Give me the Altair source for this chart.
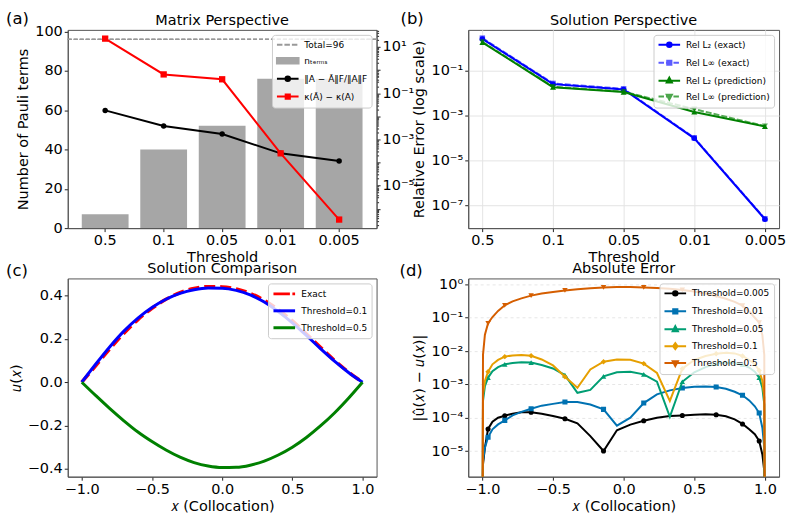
import altair as alt
import pandas as pd

FONT = "DejaVu Sans"
TICK_FS = 14.5
TITLE_FS = 14.5
LEG_FS = 9
FRAME = "#555555"

# ---------------- threshold sweep (panels a, b) ----------------
thresholds = ["0.5", "0.1", "0.05", "0.01", "0.005"]
n_terms = [7, 40, 52, 76, 76]
total_terms = 96
frob_rel_err = [1.8e-2, 3.8e-3, 1.7e-3, 2.5e-4, 1.17e-4]
kappa_diff = [23.0, 0.65, 0.40, 2.5e-4, 3.4e-7]

rel_l2_exact = [2.7, 0.026, 0.015, 1.0e-4, 2.5e-8]
rel_linf_exact = [2.9, 0.028, 0.016, 1.05e-4, 2.6e-8]
rel_l2_pred = [1.9, 0.019, 0.0115, 1.5e-3, 3.4e-4]
rel_linf_pred = [2.0, 0.020, 0.012, 2.0e-3, 3.5e-4]

# ---------------- solution profiles (panel c) ----------------
x_grid = [-1.0, -0.9, -0.8, -0.7, -0.6, -0.5, -0.4, -0.3, -0.2, -0.1, 0.0,
          0.1, 0.2, 0.3, 0.4, 0.5, 0.6, 0.7, 0.8, 0.9, 1.0]
u_exact = [0.0, 0.077, 0.154, 0.226, 0.289, 0.341, 0.383, 0.414, 0.433, 0.441, 0.440,
           0.430, 0.410, 0.378, 0.335, 0.283, 0.223, 0.161, 0.101, 0.047, 0.0]
u_thr_01 = [0.0, 0.084, 0.164, 0.236, 0.296, 0.345, 0.383, 0.410, 0.427, 0.435, 0.434,
            0.424, 0.403, 0.370, 0.326, 0.274, 0.216, 0.155, 0.097, 0.045, 0.0]
u_thr_05 = [0.0, -0.062, -0.122, -0.178, -0.230, -0.274, -0.313, -0.346, -0.371, -0.387, -0.394,
            -0.393, -0.383, -0.364, -0.336, -0.300, -0.255, -0.202, -0.142, -0.074, 0.0]
u_ticks = [0.4, 0.2, 0.0, -0.2, -0.4]

# ---------------- pointwise errors (panel d) ----------------
x_nodes = [-1.0, -0.9955, -0.9819, -0.9595, -0.9284, -0.8888, -0.8413, -0.7861, -0.7237,
           -0.6549, -0.5801, -0.5, -0.4154, -0.3271, -0.2358, -0.1423, -0.0476, 0.0476,
           0.1423, 0.2358, 0.3271, 0.4154, 0.5, 0.5801, 0.6549, 0.7237, 0.7861, 0.8413,
           0.8888, 0.9284, 0.9595, 0.9819, 0.9955, 1.0]
err_thr_0005 = [1e-9, 4.0e-6, 1.26e-5, 4.6e-5, 7.6e-5, 1.0e-4, 1.15e-4, 1.32e-4, 1.45e-4,
                1.45e-4, 1.32e-4, 1.12e-4, 9.3e-5, 6.8e-5, 2.8e-5, 1.0e-5, 4.2e-5, 6.2e-5,
                8.1e-5, 1.0e-4, 1.12e-4, 1.17e-4, 1.23e-4, 1.26e-4, 1.23e-4, 1.1e-4, 8.9e-5,
                6.5e-5, 4.5e-5, 3.2e-5, 2.0e-5, 7.9e-6, 2.5e-6, 1e-9]
err_thr_001 = [1e-9, 5.0e-6, 1.26e-5, 2.6e-5, 4.5e-5, 6.3e-5, 8.3e-5, 1.17e-4, 1.5e-4,
               1.86e-4, 2.3e-4, 2.6e-4, 2.95e-4, 2.95e-4, 2.5e-4, 1.78e-4, 5.8e-5, 1.0e-4,
               2.75e-4, 5.0e-4, 6.6e-4, 7.8e-4, 8.5e-4, 8.7e-4, 8.3e-4, 7.4e-4, 6.0e-4,
               4.7e-4, 3.3e-4, 2.2e-4, 1.38e-4, 5.0e-5, 1.26e-5, 1e-9]
err_thr_005 = [1e-9, 3.2e-4, 8.9e-4, 1.6e-3, 2.5e-3, 3.3e-3, 4.0e-3, 4.4e-3, 4.6e-3,
               4.5e-3, 3.8e-3, 3.0e-3, 1.9e-3, 5.6e-4, 6.8e-4, 1.74e-3, 2.3e-3, 2.4e-3,
               2.0e-3, 1.2e-3, 1.07e-4, 1.2e-3, 2.3e-3, 3.3e-3, 4.2e-3, 4.5e-3, 4.3e-3,
               3.9e-3, 3.2e-3, 2.4e-3, 1.6e-3, 7.9e-4, 2.5e-4, 1e-9]
err_thr_01 = [1e-9, 5.0e-4, 1.26e-3, 2.4e-3, 4.0e-3, 5.4e-3, 6.8e-3, 7.4e-3, 7.6e-3,
              7.2e-3, 5.6e-3, 3.7e-3, 1.7e-3, 7.9e-4, 2.8e-3, 4.8e-3, 5.6e-3, 5.5e-3,
              4.2e-3, 2.2e-3, 3.2e-4, 2.95e-3, 5.4e-3, 7.1e-3, 8.3e-3, 8.9e-3, 8.5e-3,
              7.1e-3, 5.4e-3, 4.0e-3, 2.6e-3, 1.26e-3, 4.0e-4, 1e-9]
err_thr_05 = [1e-9, 7.7e-3, 3.1e-2, 6.8e-2, 0.105, 0.16, 0.235, 0.31, 0.38,
              0.46, 0.53, 0.59, 0.66, 0.72, 0.77, 0.81, 0.83, 0.83,
              0.81, 0.78, 0.74, 0.68, 0.61, 0.53, 0.45, 0.37, 0.30,
              0.23, 0.155, 0.10, 0.071, 0.03, 0.0077, 1e-9]

# markers are drawn on every third node (markevery=3)
MARK_EVERY = 3

# ---------------- helpers ----------------
LOG10 = "round(log(datum.value)/LN10)"
SUP = ("{'1':'10¹','0':'10⁰','-1':'10⁻¹','-2':'10⁻²','-3':'10⁻³','-4':'10⁻⁴',"
       "'-5':'10⁻⁵','-6':'10⁻⁶','-7':'10⁻⁷','-8':'10⁻⁸'}[''+" + LOG10 + "]")
IS_DECADE = f"abs(log(datum.value)/LN10 - {LOG10}) < 1e-6"
# right axis of (a): labels on every second decade only, minor ticks unlabeled
SUP_ODD = (f"({IS_DECADE} && "
           "{'1':'10¹','-1':'10⁻¹','-3':'10⁻³','-5':'10⁻⁵'}[''+" + LOG10 + "]) || ''")
ONE_DEC = "format(datum.value, '.1f')"


def fixed_axis(values, **kw):
    # explicit tick values, all of them kept
    return alt.Axis(values=values, tickCount=2 * len(values), labelOverlap=False,
                    labelBound=False, **kw)


# legend glyphs: a line handle spanning x in [-1, 3.34] with a marker at its centre
CX = 1.17


def circle_glyph(r=0.45):
    return (f"M-1,0H3.34M{CX + r},0A{r},{r} 0 1 1 {CX - r},0"
            f"A{r},{r} 0 1 1 {CX + r},0Z")


def square_glyph(s=0.42):
    return f"M-1,0H3.34M{CX - s},{-s}H{CX + s}V{s}H{CX - s}Z"


def tri_up_glyph():
    return f"M-1,0H3.34M{CX},-0.6L{CX + 0.52},0.38L{CX - 0.52},0.38Z"


def tri_down_glyph():
    return f"M-1,0H3.34M{CX},0.6L{CX + 0.52},-0.38L{CX - 0.52},-0.38Z"


def diamond_glyph():
    return f"M-1,0H3.34M{CX},-0.6L{CX + 0.45},0L{CX},0.6L{CX - 0.45},0Z"


def dashed_glyph(mk=""):
    return "M-1,0H0.1M0.5,0H1.6M2.0,0H3.1" + mk


SOLID = "M-1,0H3.34"
PATCH = "M-1,-0.55H3.34V0.55H-1Z"


def legend_layer(labels, colors, glyphs, stroke_w=2):
    leg = alt.Legend(title=None, orient="top-right", offset=5, labelFont=FONT,
                     labelFontSize=LEG_FS, labelColor="black", symbolSize=100,
                     symbolStrokeWidth=stroke_w, symbolOpacity=1, labelOffset=16.5,
                     rowPadding=4, padding=4, fillColor="rgba(255,255,255,0.8)",
                     strokeColor="#cccccc", cornerRadius=3)
    df = pd.DataFrame({"entry": labels})
    return alt.Chart(df).mark_point(filled=True, opacity=0).encode(
        fill=alt.Fill("entry:N", scale=alt.Scale(domain=labels, range=colors), legend=leg),
        stroke=alt.Stroke("entry:N", scale=alt.Scale(domain=labels, range=colors), legend=leg),
        shape=alt.Shape("entry:N", scale=alt.Scale(domain=labels, range=glyphs), legend=leg),
    )


TAG_TOP = -19      # panel letter, top edge relative to the plot area (upper row)
TAG_TOP_LOW = -15  # lower row


def panel_tag(tag, dx, dy):
    return alt.Chart(pd.DataFrame({"tag": [tag]})).mark_text(
        font=FONT, fontSize=16.5, align="left", baseline="top", color="black"
    ).encode(text="tag:N", x=alt.value(dx), y=alt.value(dy))


def panel_title(text, tag_top):
    # titles sit just above the plot area, although the panel letter reaches higher
    return alt.TitleParams(text, offset=tag_top + 1.5)


W1, W2, H = 310, 312, 199

# ---------------- (a) Matrix Perspective ----------------
df_a = pd.DataFrame({"threshold": thresholds, "n_terms": n_terms,
                     "frob": frob_rel_err, "kappa": kappa_diff})
xa = alt.X("threshold:N", sort=thresholds,
           scale=alt.Scale(paddingInner=0.2, paddingOuter=0.24),
           axis=alt.Axis(title="Threshold", labelAngle=0))
bars = alt.Chart(df_a).mark_bar(color="#a6a6a6").encode(
    x=xa,
    y=alt.Y("n_terms:Q", scale=alt.Scale(domain=[0, 100.8], nice=False),
            axis=fixed_axis([0, 20, 40, 60, 80, 100], title="Number of Pauli terms")),
)
total_rule = alt.Chart(df_a).mark_rule(color="#999999", strokeDash=[4, 2], strokeWidth=1).encode(
    y=alt.datum(total_terms))
yr_domain = [1.45e-7, 55]
yr_ticks = [m * 10.0 ** k for k in range(-7, 2) for m in range(1, 10)
            if yr_domain[0] <= m * 10.0 ** k <= yr_domain[1]]
yr_scale = alt.Scale(type="log", domain=yr_domain, nice=False)
yr_axis = fixed_axis(yr_ticks, orient="right", title=None, labelExpr=SUP_ODD,
                     tickSize={"condition": {"test": IS_DECADE, "value": 3.5}, "value": 2})
frob_line = alt.Chart(df_a).mark_line(
    color="black", strokeWidth=2,
    point=alt.OverlayMarkDef(filled=True, color="black", size=30)
).encode(x=xa, y=alt.Y("frob:Q", scale=yr_scale, axis=yr_axis))
kappa_line = alt.Chart(df_a).mark_line(
    color="#ff0000", strokeWidth=2,
    point=alt.OverlayMarkDef(filled=True, color="#ff0000", shape="square", size=40)
).encode(x=xa, y=alt.Y("kappa:Q", scale=yr_scale, axis=yr_axis))
leg_a = legend_layer(
    [f"Total={total_terms}", "nₜₑᵣₘₛ", "‖A − Ã‖F/‖A‖F", "κ(Ã) − κ(A)"],
    ["#999999", "#a6a6a6", "black", "#ff0000"],
    [dashed_glyph(), PATCH, circle_glyph(), square_glyph()],
)
panel_a = alt.layer(
    alt.layer(bars, total_rule),
    alt.layer(frob_line, kappa_line, leg_a),
    panel_tag("(a)", -62, TAG_TOP),
).resolve_scale(y="independent").properties(
    width=W1, height=H, title=panel_title("Matrix Perspective", TAG_TOP))

# ---------------- (b) Solution Perspective ----------------
df_b = pd.DataFrame({"threshold": thresholds, "l2_exact": rel_l2_exact,
                     "linf_exact": rel_linf_exact, "l2_pred": rel_l2_pred,
                     "linf_pred": rel_linf_pred})
xb = alt.X("threshold:N", sort=thresholds, scale=alt.Scale(type="point", padding=0.2),
           axis=alt.Axis(title="Threshold", labelAngle=0, grid=True, gridColor="#e4e4e4"))
yb_scale = alt.Scale(type="log", domain=[1.0e-8, 6.8], nice=False)
yb_axis = fixed_axis([0.1, 1e-3, 1e-5, 1e-7], title="Relative Error (log scale)",
                     labelExpr=SUP, grid=True, gridColor="#e4e4e4")


def err_line(field, color, shape, size, dashed=False, op=1.0):
    kw = dict(color=color, strokeWidth=2, opacity=op,
              point=alt.OverlayMarkDef(filled=True, color=color, shape=shape, size=size, opacity=op))
    if dashed:
        kw["strokeDash"] = [6, 2]
    return alt.Chart(df_b).mark_line(**kw).encode(
        x=xb, y=alt.Y(f"{field}:Q", scale=yb_scale, axis=yb_axis))


leg_b = legend_layer(
    ["Rel L₂ (exact)", "Rel L∞ (exact)", "Rel L₂ (prediction)", "Rel L∞ (prediction)"],
    ["#0000ff", "#5c5cff", "#008000", "#4da64d"],
    [circle_glyph(), dashed_glyph(f"M{CX - 0.42},-0.42H{CX + 0.42}V0.42H{CX - 0.42}Z"),
     tri_up_glyph(), dashed_glyph(f"M{CX},0.6L{CX + 0.52},-0.38L{CX - 0.52},-0.38Z")],
)
panel_b = alt.layer(
    err_line("l2_exact", "#0000ff", "circle", 30),
    err_line("linf_exact", "#0000ff", "square", 30, dashed=True, op=0.65),
    err_line("l2_pred", "#008000", "triangle-up", 36),
    err_line("linf_pred", "#008000", "triangle-down", 36, dashed=True, op=0.65),
    leg_b,
    panel_tag("(b)", -68, TAG_TOP),
).properties(width=W2, height=H, title=panel_title("Solution Perspective", TAG_TOP))

# ---------------- (c) Solution Comparison ----------------
df_c = pd.DataFrame({"x": x_grid, "exact": u_exact, "t01": u_thr_01, "t05": u_thr_05})
xc = alt.X("x:Q", scale=alt.Scale(domain=[-1.1, 1.1], nice=False, zero=False),
           axis=fixed_axis([-1, -0.5, 0, 0.5, 1], title="𝑥 (Collocation)", labelExpr=ONE_DEC))
yc_scale = alt.Scale(domain=[-0.436, 0.479], nice=False, zero=False)
# tick positions nudged by a hair so that every one of them keeps its label
yc_axis = fixed_axis([v + 1e-7 for v in u_ticks], title="𝑢(𝑥)", labelExpr=ONE_DEC)


def sol_line(field, color, width, dash=None):
    kw = dict(color=color, strokeWidth=width, interpolate="monotone")
    if dash:
        kw["strokeDash"] = dash
    return alt.Chart(df_c).mark_line(**kw).encode(
        x=xc, y=alt.Y(f"{field}:Q", scale=yc_scale, axis=yc_axis))


leg_c = legend_layer(
    ["Exact", "Threshold=0.1", "Threshold=0.5"],
    ["#ff0000", "#0000ff", "#008000"],
    ["M-1,0H2.3M2.8,0H3.34", SOLID, SOLID],
    stroke_w=3,
)
panel_c = alt.layer(
    sol_line("exact", "#ff0000", 3.5, [11, 5]),
    sol_line("t01", "#0000ff", 3),
    sol_line("t05", "#008000", 3),
    leg_c,
    panel_tag("(c)", -62, TAG_TOP_LOW),
).properties(width=W1, height=H, title=panel_title("Solution Comparison", TAG_TOP_LOW))

# ---------------- (d) Absolute Error ----------------
series_d = [("Threshold=0.005", err_thr_0005, "#000000", "circle", 26),
            ("Threshold=0.01", err_thr_001, "#0072B2", "square", 26),
            ("Threshold=0.05", err_thr_005, "#009E73", "triangle-up", 30),
            ("Threshold=0.1", err_thr_01, "#E69F00", "diamond", 30),
            ("Threshold=0.5", err_thr_05, "#D55E00", "triangle-down", 30)]
rows = []
for name, errs, _, _, _ in series_d:
    for i, (xv, ev) in enumerate(zip(x_nodes, errs)):
        rows.append({"series": name, "x": xv, "err": ev,
                     "marker": (i % MARK_EVERY == 0) and 0 < i < len(x_nodes) - 1})
df_d = pd.DataFrame(rows)
xd = alt.X("x:Q", scale=alt.Scale(domain=[-1.1, 1.1], nice=False, zero=False),
           axis=fixed_axis([-1, -0.5, 0, 0.5, 1], title="𝑥 (Collocation)", labelExpr=ONE_DEC))
yd = alt.Y("err:Q", scale=alt.Scale(type="log", domain=[1.7e-6, 1.51], nice=False),
           axis=fixed_axis([1, 0.1, 1e-2, 1e-3, 1e-4, 1e-5], title="|û(𝑥) − 𝑢(𝑥)|",
                           labelExpr=SUP, grid=True, gridColor="#e6e6e6", gridDash=[3, 3]))
layers_d = []
for name, _, color, shape, size in series_d:
    base = alt.Chart(df_d).transform_filter(alt.datum.series == name)
    layers_d.append(base.mark_line(color=color, strokeWidth=2, clip=True).encode(x=xd, y=yd))
    layers_d.append(base.transform_filter(alt.datum.marker).mark_point(
        filled=True, color=color, shape=shape, size=size, opacity=1, clip=True).encode(x=xd, y=yd))
leg_d = legend_layer(
    [s[0] for s in series_d],
    [s[2] for s in series_d],
    [circle_glyph(), square_glyph(), tri_up_glyph(), diamond_glyph(), tri_down_glyph()],
)
panel_d = alt.layer(*layers_d, leg_d, panel_tag("(d)", -69, TAG_TOP_LOW)).properties(
    width=W2, height=H, title=panel_title("Absolute Error", TAG_TOP_LOW))

# ---------------- assemble ----------------
chart = alt.concat(panel_a, panel_b, panel_c, panel_d, columns=2).properties(
    spacing={"row": 50.5, "column": 92}, bounds="flush",
    padding={"left": 5, "top": 9, "right": 5, "bottom": 5},
).resolve_scale(
    fill="independent", stroke="independent", shape="independent"
).resolve_legend(
    fill="independent", stroke="independent", shape="independent"
).configure_view(
    stroke=FRAME, strokeWidth=1
).configure_axis(
    labelFont=FONT, labelFontSize=TICK_FS, labelColor="black",
    titleFont=FONT, titleFontSize=TITLE_FS, titleFontWeight="normal", titleColor="black",
    tickColor="#222222", tickSize=3.5, domainColor=FRAME, labelPadding=2, titlePadding=4,
    labelFlush=False, labelOverlap=False, grid=False,
).configure_title(
    font=FONT, fontSize=TITLE_FS, fontWeight="normal", color="black", anchor="middle",
)

chart.save("out.html", embed_options={"renderer": "svg", "actions": False})
